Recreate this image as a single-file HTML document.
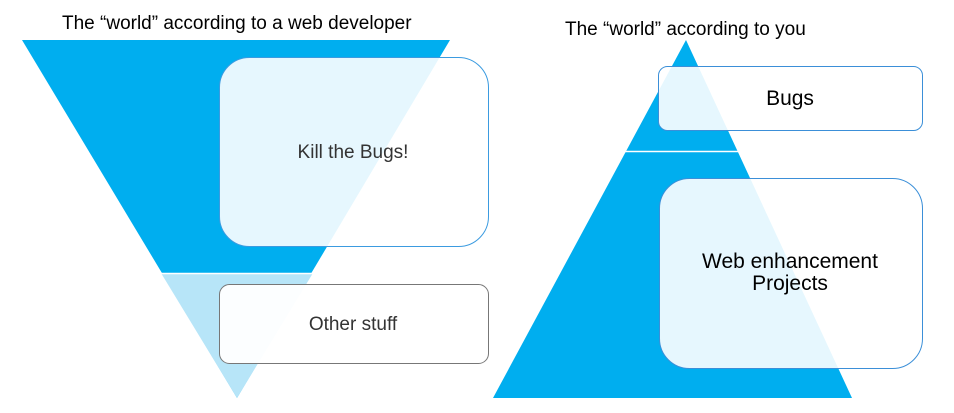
<!DOCTYPE html>
<html><head><meta charset="utf-8"><style>
html,body{margin:0;padding:0;background:#fff;}
svg{display:block;}
text{font-family:"Liberation Sans",Arial,sans-serif;}
</style></head><body>
<svg width="954" height="413" viewBox="0 0 954 413" xmlns="http://www.w3.org/2000/svg">
<polygon points="22,40 450,40 237,398" fill="#00AEEF"/>
<polygon points="161,273 313,273 237,398" fill="#B7E5F8"/>
<line x1="150" y1="273.5" x2="330" y2="273.5" stroke="#fff" stroke-width="1.5"/>
<polygon points="686,40 852,398 493,398" fill="#00AEEF"/>
<line x1="600" y1="151.5" x2="760" y2="151.5" stroke="#fff" stroke-width="1.5"/>
<rect x="219.5" y="57.5" width="269" height="189" rx="30" fill="#fff" fill-opacity="0.9" stroke="#3B9BE0" stroke-width="1"/>
<rect x="219.5" y="284.5" width="269" height="79" rx="10" fill="#fff" fill-opacity="0.95" stroke="#777" stroke-width="1"/>
<rect x="658.5" y="66.5" width="264" height="64" rx="9" fill="#fff" fill-opacity="0.9" stroke="#3B8FD8" stroke-width="1"/>
<rect x="659.5" y="178.5" width="263" height="190" rx="30" fill="#fff" fill-opacity="0.9" stroke="#3B8FD8" stroke-width="1"/>
<text x="62" y="29" font-size="19" fill="#000">The “world” according to a web developer</text>
<text x="565" y="35" font-size="19" fill="#000">The “world” according to you</text>
<text x="353" y="158" font-size="19" fill="#333" text-anchor="middle">Kill the Bugs!</text>
<text x="353" y="330" font-size="19" fill="#333" text-anchor="middle">Other stuff</text>
<text x="790" y="105" font-size="21" fill="#000" text-anchor="middle">Bugs</text>
<text x="790" y="268" font-size="21" fill="#000" text-anchor="middle">Web enhancement</text>
<text x="790" y="290" font-size="21" fill="#000" text-anchor="middle">Projects</text>
</svg>
</body></html>
